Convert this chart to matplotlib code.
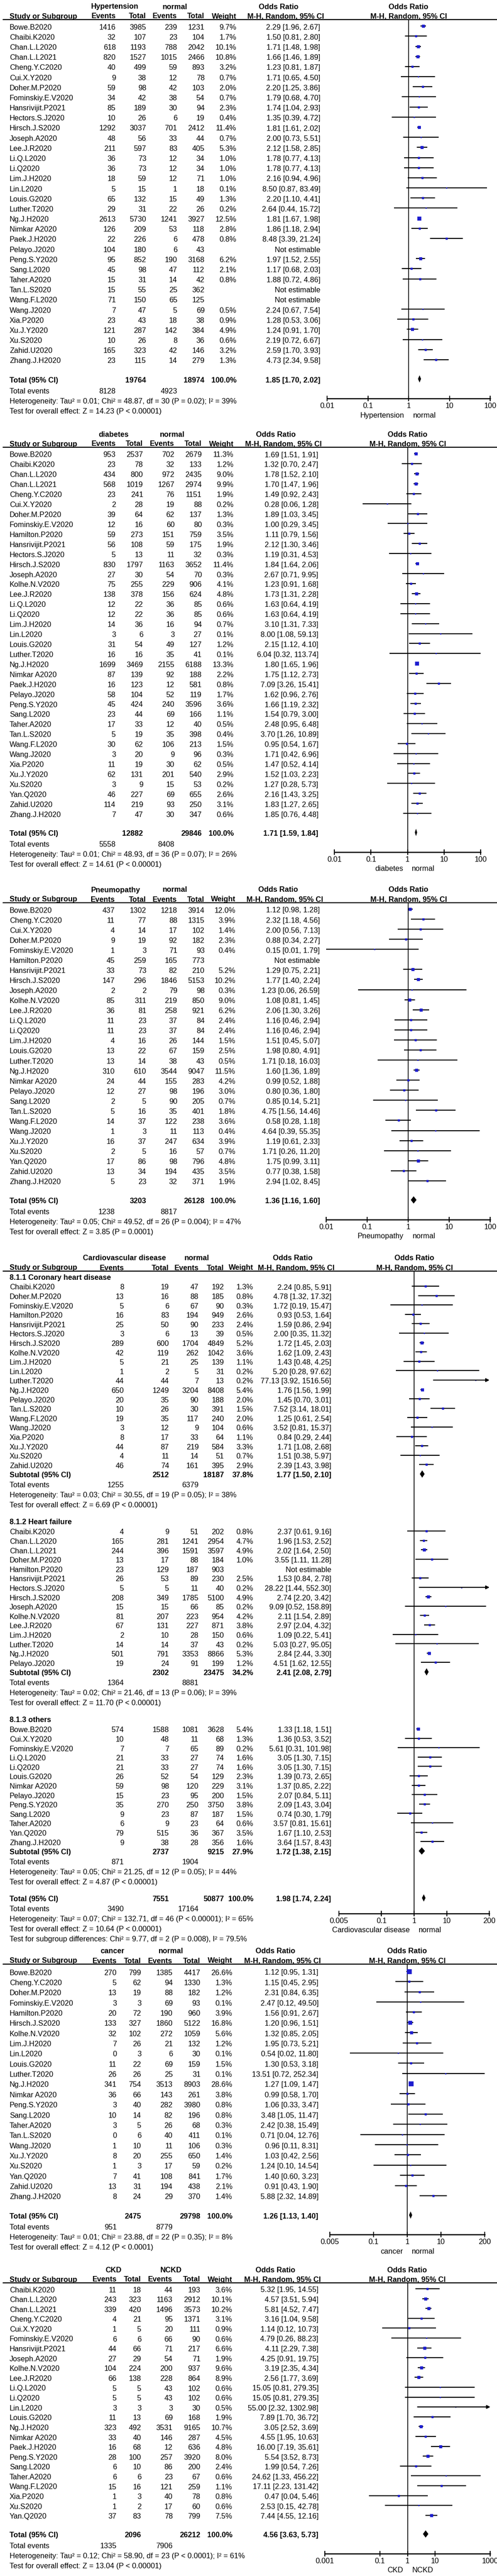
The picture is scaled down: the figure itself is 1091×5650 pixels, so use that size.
import matplotlib.pyplot as plt
from matplotlib.ticker import NullLocator
from matplotlib.transforms import blended_transform_factory

W, H = 1091, 5650
plt.rcParams['font.family'] = ['Liberation Sans', 'DejaVu Sans']
FS = 11.8
BLUE = '#1c1ccf'

# ---- data: (study, events1, total1, events2, total2, weight %, OR, lower, upper)
hyp_rows = [
    ("Bowe.B2020", 1416, 3985, 239, 1231, 9.7, 2.29, 1.96, 2.67),
    ("Chaibi.K2020", 32, 107, 23, 104, 1.7, 1.50, 0.81, 2.80),
    ("Chan.L.L2020", 618, 1193, 788, 2042, 10.1, 1.71, 1.48, 1.98),
    ("Chan.L.L2021", 820, 1527, 1015, 2466, 10.8, 1.66, 1.46, 1.89),
    ("Cheng.Y.C2020", 40, 499, 59, 893, 3.2, 1.23, 0.81, 1.87),
    ("Cui.X.Y2020", 9, 38, 12, 78, 0.7, 1.71, 0.65, 4.50),
    ("Doher.M.P2020", 59, 98, 42, 103, 2.0, 2.20, 1.25, 3.86),
    ("Fominskiy.E.V2020", 34, 42, 38, 54, 0.7, 1.79, 0.68, 4.70),
    ("Hansrivijit.P2021", 85, 189, 30, 94, 2.3, 1.74, 1.04, 2.93),
    ("Hectors.S.J2020", 10, 26, 6, 19, 0.4, 1.35, 0.39, 4.72),
    ("Hirsch.J.S2020", 1292, 3037, 701, 2412, 11.4, 1.81, 1.61, 2.02),
    ("Joseph.A2020", 48, 56, 33, 44, 0.7, 2.00, 0.73, 5.51),
    ("Lee.J.R2020", 211, 597, 83, 405, 5.3, 2.12, 1.58, 2.85),
    ("Li.Q.L2020", 36, 73, 12, 34, 1.0, 1.78, 0.77, 4.13),
    ("Li.Q2020", 36, 73, 12, 34, 1.0, 1.78, 0.77, 4.13),
    ("Lim.J.H2020", 18, 59, 12, 71, 1.0, 2.16, 0.94, 4.96),
    ("Lin.L2020", 5, 15, 1, 18, 0.1, 8.50, 0.87, 83.49),
    ("Louis.G2020", 65, 132, 15, 49, 1.3, 2.20, 1.10, 4.41),
    ("Luther.T2020", 29, 31, 22, 26, 0.2, 2.64, 0.44, 15.72),
    ("Ng.J.H2020", 2613, 5730, 1241, 3927, 12.5, 1.81, 1.67, 1.98),
    ("Nimkar A2020", 126, 209, 53, 118, 2.8, 1.86, 1.18, 2.94),
    ("Paek.J.H2020", 22, 226, 6, 478, 0.8, 8.48, 3.39, 21.24),
    ("Pelayo.J2020", 104, 180, 6, 43, None, None, None, None),
    ("Peng.S.Y2020", 95, 852, 190, 3168, 6.2, 1.97, 1.52, 2.55),
    ("Sang.L2020", 45, 98, 47, 112, 2.1, 1.17, 0.68, 2.03),
    ("Taher.A2020", 15, 31, 14, 42, 0.8, 1.88, 0.72, 4.86),
    ("Tan.L.S2020", 15, 55, 25, 362, None, None, None, None),
    ("Wang.F.L2020", 71, 150, 65, 125, None, None, None, None),
    ("Wang.J2020", 7, 47, 5, 69, 0.5, 2.24, 0.67, 7.54),
    ("Xia.P2020", 23, 43, 18, 38, 0.9, 1.28, 0.53, 3.06),
    ("Xu.J.Y2020", 121, 287, 142, 384, 4.9, 1.24, 0.91, 1.70),
    ("Xu.S2020", 10, 26, 8, 36, 0.6, 2.19, 0.72, 6.67),
    ("Zahid.U2020", 165, 323, 42, 146, 3.2, 2.59, 1.70, 3.93),
    ("Zhang.J.H2020", 23, 115, 14, 279, 1.3, 4.73, 2.34, 9.58),
]
hyp_total = (19764, 18974, 100.0, 1.85, 1.70, 2.02)
hyp_events = (8128, 4923)
hyp_het = "Heterogeneity: Tau² = 0.01; Chi² = 48.87, df = 30 (P = 0.02); I² = 39%"
hyp_test = "Test for overall effect: Z = 14.23 (P < 0.00001)"

dia_rows = [
    ("Bowe.B2020", 953, 2537, 702, 2679, 11.3, 1.69, 1.51, 1.91),
    ("Chaibi.K2020", 23, 78, 32, 133, 1.2, 1.32, 0.70, 2.47),
    ("Chan.L.L2020", 434, 800, 972, 2435, 9.0, 1.78, 1.52, 2.10),
    ("Chan.L.L2021", 568, 1019, 1267, 2974, 9.9, 1.70, 1.47, 1.96),
    ("Cheng.Y.C2020", 23, 241, 76, 1151, 1.9, 1.49, 0.92, 2.43),
    ("Cui.X.Y2020", 2, 28, 19, 88, 0.2, 0.28, 0.06, 1.28),
    ("Doher.M.P2020", 39, 64, 62, 137, 1.3, 1.89, 1.03, 3.45),
    ("Fominskiy.E.V2020", 12, 16, 60, 80, 0.3, 1.00, 0.29, 3.45),
    ("Hamilton.P2020", 59, 273, 151, 759, 3.5, 1.11, 0.79, 1.56),
    ("Hansrivijit.P2021", 56, 108, 59, 175, 1.9, 2.12, 1.30, 3.46),
    ("Hectors.S.J2020", 5, 13, 11, 32, 0.3, 1.19, 0.31, 4.53),
    ("Hirsch.J.S2020", 830, 1797, 1163, 3652, 11.4, 1.84, 1.64, 2.06),
    ("Joseph.A2020", 27, 30, 54, 70, 0.3, 2.67, 0.71, 9.95),
    ("Kolhe.N.V2020", 75, 255, 229, 906, 4.1, 1.23, 0.91, 1.68),
    ("Lee.J.R2020", 138, 378, 156, 624, 4.8, 1.73, 1.31, 2.28),
    ("Li.Q.L2020", 12, 22, 36, 85, 0.6, 1.63, 0.64, 4.19),
    ("Li.Q2020", 12, 22, 36, 85, 0.6, 1.63, 0.64, 4.19),
    ("Lim.J.H2020", 14, 36, 16, 94, 0.7, 3.10, 1.31, 7.33),
    ("Lin.L2020", 3, 6, 3, 27, 0.1, 8.00, 1.08, 59.13),
    ("Louis.G2020", 31, 54, 49, 127, 1.2, 2.15, 1.12, 4.10),
    ("Luther.T2020", 16, 16, 35, 41, 0.1, 6.04, 0.32, 113.74),
    ("Ng.J.H2020", 1699, 3469, 2155, 6188, 13.3, 1.80, 1.65, 1.96),
    ("Nimkar A2020", 87, 139, 92, 188, 2.2, 1.75, 1.12, 2.73),
    ("Paek.J.H2020", 16, 123, 12, 581, 0.8, 7.09, 3.26, 15.41),
    ("Pelayo.J2020", 58, 104, 52, 119, 1.7, 1.62, 0.96, 2.76),
    ("Peng.S.Y2020", 45, 424, 240, 3596, 3.6, 1.66, 1.19, 2.32),
    ("Sang.L2020", 23, 44, 69, 166, 1.1, 1.54, 0.79, 3.00),
    ("Taher.A2020", 17, 33, 12, 40, 0.5, 2.48, 0.95, 6.48),
    ("Tan.L.S2020", 5, 19, 35, 398, 0.4, 3.70, 1.26, 10.89),
    ("Wang.F.L2020", 30, 62, 106, 213, 1.5, 0.95, 0.54, 1.67),
    ("Wang.J2020", 3, 20, 9, 96, 0.3, 1.71, 0.42, 6.96),
    ("Xia.P2020", 11, 19, 30, 62, 0.5, 1.47, 0.52, 4.14),
    ("Xu.J.Y2020", 62, 131, 201, 540, 2.9, 1.52, 1.03, 2.23),
    ("Xu.S2020", 3, 9, 15, 53, 0.2, 1.27, 0.28, 5.73),
    ("Yan.Q2020", 46, 227, 69, 655, 2.6, 2.16, 1.43, 3.25),
    ("Zahid.U2020", 114, 219, 93, 250, 3.1, 1.83, 1.27, 2.65),
    ("Zhang.J.H2020", 7, 47, 30, 347, 0.6, 1.85, 0.76, 4.48),
]
dia_total = (12882, 29846, 100.0, 1.71, 1.59, 1.84)
dia_events = (5558, 8408)
dia_het = "Heterogeneity: Tau² = 0.01; Chi² = 48.93, df = 36 (P = 0.07); I² = 26%"
dia_test = "Test for overall effect: Z = 14.61 (P < 0.00001)"

pne_rows = [
    ("Bowe.B2020", 437, 1302, 1218, 3914, 12.0, 1.12, 0.98, 1.28),
    ("Cheng.Y.C2020", 11, 77, 88, 1315, 3.9, 2.32, 1.18, 4.56),
    ("Cui.X.Y2020", 4, 14, 17, 102, 1.4, 2.00, 0.56, 7.13),
    ("Doher.M.P2020", 9, 19, 92, 182, 2.3, 0.88, 0.34, 2.27),
    ("Fominskiy.E.V2020", 1, 3, 71, 93, 0.4, 0.15, 0.01, 1.79),
    ("Hamilton.P2020", 45, 259, 165, 773, None, None, None, None),
    ("Hansrivijit.P2021", 33, 73, 82, 210, 5.2, 1.29, 0.75, 2.21),
    ("Hirsch.J.S2020", 147, 296, 1846, 5153, 10.2, 1.77, 1.40, 2.24),
    ("Joseph.A2020", 2, 2, 79, 98, 0.3, 1.23, 0.06, 26.59),
    ("Kolhe.N.V2020", 85, 311, 219, 850, 9.0, 1.08, 0.81, 1.45),
    ("Lee.J.R2020", 36, 81, 258, 921, 6.2, 2.06, 1.30, 3.26),
    ("Li.Q.L2020", 11, 23, 37, 84, 2.4, 1.16, 0.46, 2.94),
    ("Li.Q2020", 11, 23, 37, 84, 2.4, 1.16, 0.46, 2.94),
    ("Lim.J.H2020", 4, 16, 26, 144, 1.5, 1.51, 0.45, 5.07),
    ("Louis.G2020", 13, 22, 67, 159, 2.5, 1.98, 0.80, 4.91),
    ("Luther.T2020", 13, 14, 38, 43, 0.5, 1.71, 0.18, 16.03),
    ("Ng.J.H2020", 310, 610, 3544, 9047, 11.5, 1.60, 1.36, 1.89),
    ("Nimkar A2020", 24, 44, 155, 283, 4.2, 0.99, 0.52, 1.88),
    ("Pelayo.J2020", 12, 27, 98, 196, 3.0, 0.80, 0.36, 1.80),
    ("Sang.L2020", 2, 5, 90, 205, 0.7, 0.85, 0.14, 5.21),
    ("Tan.L.S2020", 5, 16, 35, 401, 1.8, 4.75, 1.56, 14.46),
    ("Wang.F.L2020", 14, 37, 122, 238, 3.6, 0.58, 0.28, 1.18),
    ("Wang.J2020", 1, 3, 11, 113, 0.4, 4.64, 0.39, 55.35),
    ("Xu.J.Y2020", 16, 37, 247, 634, 3.9, 1.19, 0.61, 2.33),
    ("Xu.S2020", 2, 5, 16, 57, 0.7, 1.71, 0.26, 11.20),
    ("Yan.Q2020", 17, 86, 98, 796, 4.8, 1.75, 0.99, 3.11),
    ("Zahid.U2020", 13, 34, 194, 435, 3.5, 0.77, 0.38, 1.58),
    ("Zhang.J.H2020", 5, 23, 32, 371, 1.9, 2.94, 1.02, 8.45),
]
pne_total = (3203, 26128, 100.0, 1.36, 1.16, 1.60)
pne_events = (1238, 8817)
pne_het = "Heterogeneity: Tau² = 0.05; Chi² = 49.52, df = 26 (P = 0.004); I² = 47%"
pne_test = "Test for overall effect: Z = 3.85 (P = 0.0001)"

chd_rows = [
    ("Chaibi.K2020", 8, 19, 47, 192, 1.3, 2.24, 0.85, 5.91),
    ("Doher.M.P2020", 13, 16, 88, 185, 0.8, 4.78, 1.32, 17.32),
    ("Fominskiy.E.V2020", 5, 6, 67, 90, 0.3, 1.72, 0.19, 15.47),
    ("Hamilton.P2020", 16, 83, 194, 949, 2.6, 0.93, 0.53, 1.64),
    ("Hansrivijit.P2021", 25, 50, 90, 233, 2.4, 1.59, 0.86, 2.94),
    ("Hectors.S.J2020", 3, 6, 13, 39, 0.5, 2.00, 0.35, 11.32),
    ("Hirsch.J.S2020", 289, 600, 1704, 4849, 5.2, 1.72, 1.45, 2.03),
    ("Kolhe.N.V2020", 42, 119, 262, 1042, 3.6, 1.62, 1.09, 2.43),
    ("Lim.J.H2020", 5, 21, 25, 139, 1.1, 1.43, 0.48, 4.25),
    ("Lin.L2020", 1, 2, 5, 31, 0.2, 5.20, 0.28, 97.62),
    ("Luther.T2020", 44, 44, 7, 13, 0.2, 77.13, 3.92, 1516.56),
    ("Ng.J.H2020", 650, 1249, 3204, 8408, 5.4, 1.76, 1.56, 1.99),
    ("Pelayo.J2020", 20, 35, 90, 188, 2.0, 1.45, 0.70, 3.01),
    ("Tan.L.S2020", 10, 26, 30, 391, 1.5, 7.52, 3.14, 18.01),
    ("Wang.F.L2020", 19, 35, 117, 240, 2.0, 1.25, 0.61, 2.54),
    ("Wang.J2020", 3, 12, 9, 104, 0.6, 3.52, 0.81, 15.37),
    ("Xia.P2020", 8, 17, 33, 64, 1.1, 0.84, 0.29, 2.44),
    ("Xu.J.Y2020", 44, 87, 219, 584, 3.3, 1.71, 1.08, 2.68),
    ("Xu.S2020", 4, 11, 14, 51, 0.7, 1.51, 0.38, 5.97),
    ("Zahid.U2020", 46, 74, 161, 395, 2.9, 2.39, 1.43, 3.98),
]
chd_sub = (2512, 18187, 37.8, 1.77, 1.50, 2.10)
chd_events = (1255, 6379)
chd_het = "Heterogeneity: Tau² = 0.03; Chi² = 30.55, df = 19 (P = 0.05); I² = 38%"
chd_test = "Test for overall effect: Z = 6.69 (P < 0.00001)"

hf_rows = [
    ("Chaibi.K2020", 4, 9, 51, 202, 0.8, 2.37, 0.61, 9.16),
    ("Chan.L.L2020", 165, 281, 1241, 2954, 4.7, 1.96, 1.53, 2.52),
    ("Chan.L.L2021", 244, 396, 1591, 3597, 4.9, 2.02, 1.64, 2.50),
    ("Doher.M.P2020", 13, 17, 88, 184, 1.0, 3.55, 1.11, 11.28),
    ("Hamilton.P2020", 23, 129, 187, 903, None, None, None, None),
    ("Hansrivijit.P2021", 26, 53, 89, 230, 2.5, 1.53, 0.84, 2.78),
    ("Hectors.S.J2020", 5, 5, 11, 40, 0.2, 28.22, 1.44, 552.30),
    ("Hirsch.J.S2020", 208, 349, 1785, 5100, 4.9, 2.74, 2.20, 3.42),
    ("Joseph.A2020", 15, 15, 66, 85, 0.2, 9.09, 0.52, 158.89),
    ("Kolhe.N.V2020", 81, 207, 223, 954, 4.2, 2.11, 1.54, 2.89),
    ("Lee.J.R2020", 67, 131, 227, 871, 3.8, 2.97, 2.04, 4.32),
    ("Lim.J.H2020", 2, 10, 28, 150, 0.6, 1.09, 0.22, 5.41),
    ("Luther.T2020", 14, 14, 37, 43, 0.2, 5.03, 0.27, 95.05),
    ("Ng.J.H2020", 501, 791, 3353, 8866, 5.3, 2.84, 2.44, 3.30),
    ("Pelayo.J2020", 19, 24, 91, 199, 1.2, 4.51, 1.62, 12.55),
]
hf_sub = (2302, 23475, 34.2, 2.41, 2.08, 2.79)
hf_events = (1364, 8881)
hf_het = "Heterogeneity: Tau² = 0.02; Chi² = 21.46, df = 13 (P = 0.06); I² = 39%"
hf_test = "Test for overall effect: Z = 11.70 (P < 0.00001)"

oth_rows = [
    ("Bowe.B2020", 574, 1588, 1081, 3628, 5.4, 1.33, 1.18, 1.51),
    ("Cui.X.Y2020", 10, 48, 11, 68, 1.3, 1.36, 0.53, 3.52),
    ("Fominskiy.E.V2020", 7, 7, 65, 89, 0.2, 5.61, 0.31, 101.98),
    ("Li.Q.L2020", 21, 33, 27, 74, 1.6, 3.05, 1.30, 7.15),
    ("Li.Q2020", 21, 33, 27, 74, 1.6, 3.05, 1.30, 7.15),
    ("Louis.G2020", 26, 52, 54, 129, 2.3, 1.39, 0.73, 2.65),
    ("Nimkar A2020", 59, 98, 120, 229, 3.1, 1.37, 0.85, 2.22),
    ("Pelayo.J2020", 15, 23, 95, 200, 1.5, 2.07, 0.84, 5.11),
    ("Peng.S.Y2020", 35, 270, 250, 3750, 3.8, 2.09, 1.43, 3.04),
    ("Sang.L2020", 9, 23, 87, 187, 1.5, 0.74, 0.30, 1.79),
    ("Taher.A2020", 6, 9, 23, 64, 0.6, 3.57, 0.81, 15.61),
    ("Yan.Q2020", 79, 515, 36, 367, 3.5, 1.67, 1.10, 2.53),
    ("Zhang.J.H2020", 9, 38, 28, 356, 1.6, 3.64, 1.57, 8.43),
]
oth_sub = (2737, 9215, 27.9, 1.72, 1.38, 2.15)
oth_events = (871, 1904)
oth_het = "Heterogeneity: Tau² = 0.05; Chi² = 21.25, df = 12 (P = 0.05); I² = 44%"
oth_test = "Test for overall effect: Z = 4.87 (P < 0.00001)"

cvd_total = (7551, 50877, 100.0, 1.98, 1.74, 2.24)
cvd_events = (3490, 17164)
cvd_het = "Heterogeneity: Tau² = 0.07; Chi² = 132.71, df = 46 (P < 0.00001); I² = 65%"
cvd_test = "Test for overall effect: Z = 10.64 (P < 0.00001)"
cvd_subdiff = "Test for subgroup differences: Chi² = 9.77, df = 2 (P = 0.008), I² = 79.5%"

can_rows = [
    ("Bowe.B2020", 270, 799, 1385, 4417, 26.6, 1.12, 0.95, 1.31),
    ("Cheng.Y.C2020", 5, 62, 94, 1330, 1.3, 1.15, 0.45, 2.95),
    ("Doher.M.P2020", 13, 19, 88, 182, 1.2, 2.31, 0.84, 6.35),
    ("Fominskiy.E.V2020", 3, 3, 69, 93, 0.1, 2.47, 0.12, 49.50),
    ("Hamilton.P2020", 20, 72, 190, 960, 3.9, 1.56, 0.91, 2.67),
    ("Hirsch.J.S2020", 133, 327, 1860, 5122, 16.8, 1.20, 0.96, 1.51),
    ("Kolhe.N.V2020", 32, 102, 272, 1059, 5.6, 1.32, 0.85, 2.05),
    ("Lim.J.H2020", 7, 26, 21, 132, 1.2, 1.95, 0.73, 5.21),
    ("Lin.L2020", 0, 3, 6, 30, 0.1, 0.54, 0.02, 11.80),
    ("Louis.G2020", 11, 22, 69, 159, 1.5, 1.30, 0.53, 3.18),
    ("Luther.T2020", 26, 26, 25, 31, 0.1, 13.51, 0.72, 252.34),
    ("Ng.J.H2020", 341, 754, 3513, 8903, 28.6, 1.27, 1.09, 1.47),
    ("Nimkar A2020", 36, 66, 143, 261, 3.8, 0.99, 0.58, 1.70),
    ("Peng.S.Y2020", 3, 40, 282, 3980, 0.8, 1.06, 0.33, 3.47),
    ("Sang.L2020", 10, 14, 82, 196, 0.8, 3.48, 1.05, 11.47),
    ("Taher.A2020", 3, 5, 26, 68, 0.3, 2.42, 0.38, 15.49),
    ("Tan.L.S2020", 0, 6, 40, 411, 0.1, 0.71, 0.04, 12.76),
    ("Wang.J2020", 1, 10, 11, 106, 0.3, 0.96, 0.11, 8.31),
    ("Xu.J.Y2020", 8, 20, 255, 650, 1.4, 1.03, 0.42, 2.56),
    ("Xu.S2020", 1, 3, 17, 59, 0.2, 1.24, 0.10, 14.54),
    ("Yan.Q2020", 7, 41, 108, 841, 1.7, 1.40, 0.60, 3.23),
    ("Zahid.U2020", 13, 31, 194, 438, 2.1, 0.91, 0.43, 1.90),
    ("Zhang.J.H2020", 8, 24, 29, 370, 1.4, 5.88, 2.32, 14.89),
]
can_total = (2475, 29798, 100.0, 1.26, 1.13, 1.40)
can_events = (951, 8779)
can_het = "Heterogeneity: Tau² = 0.01; Chi² = 23.88, df = 22 (P = 0.35); I² = 8%"
can_test = "Test for overall effect: Z = 4.12 (P < 0.0001)"

ckd_rows = [
    ("Chaibi.K2020", 11, 18, 44, 193, 3.6, 5.32, 1.95, 14.55),
    ("Chan.L.L2020", 243, 323, 1163, 2912, 10.1, 4.57, 3.51, 5.94),
    ("Chan.L.L2021", 339, 420, 1496, 3573, 10.2, 5.81, 4.52, 7.47),
    ("Cheng.Y.C2020", 4, 21, 95, 1371, 3.1, 3.16, 1.04, 9.58),
    ("Cui.X.Y2020", 1, 5, 20, 111, 0.9, 1.14, 0.12, 10.73),
    ("Fominskiy.E.V2020", 6, 6, 66, 90, 0.6, 4.79, 0.26, 88.23),
    ("Hansrivijit.P2021", 44, 66, 71, 217, 6.6, 4.11, 2.29, 7.38),
    ("Joseph.A2020", 27, 29, 54, 71, 1.9, 4.25, 0.91, 19.75),
    ("Kolhe.N.V2020", 104, 224, 200, 937, 9.6, 3.19, 2.35, 4.34),
    ("Lee.J.R2020", 66, 138, 228, 864, 8.9, 2.56, 1.77, 3.69),
    ("Li.Q.L2020", 5, 5, 43, 102, 0.6, 15.05, 0.81, 279.35),
    ("Li.Q2020", 5, 5, 43, 102, 0.6, 15.05, 0.81, 279.35),
    ("Lin.L2020", 3, 3, 3, 30, 0.5, 55.00, 2.32, 1302.98),
    ("Louis.G2020", 11, 13, 69, 168, 1.9, 7.89, 1.70, 36.72),
    ("Ng.J.H2020", 323, 492, 3531, 9165, 10.7, 3.05, 2.52, 3.69),
    ("Nimkar A2020", 33, 40, 146, 287, 4.5, 4.55, 1.95, 10.63),
    ("Paek.J.H2020", 16, 68, 12, 636, 4.8, 16.00, 7.19, 35.61),
    ("Peng.S.Y2020", 28, 100, 257, 3920, 8.0, 5.54, 3.52, 8.73),
    ("Sang.L2020", 6, 10, 86, 200, 2.4, 1.99, 0.54, 7.26),
    ("Taher.A2020", 6, 6, 23, 67, 0.6, 24.62, 1.33, 456.22),
    ("Wang.F.L2020", 15, 16, 121, 259, 1.1, 17.11, 2.23, 131.42),
    ("Xia.P2020", 1, 3, 40, 78, 0.8, 0.47, 0.04, 5.46),
    ("Xu.S2020", 1, 2, 17, 60, 0.6, 2.53, 0.15, 42.78),
    ("Yan.Q2020", 37, 83, 78, 799, 7.5, 7.44, 4.55, 12.16),
]
ckd_total = (2096, 26212, 100.0, 4.56, 3.63, 5.73)
ckd_events = (1335, 7906)
ckd_het = "Heterogeneity: Tau² = 0.12; Chi² = 58.90, df = 23 (P < 0.0001); I² = 61%"
ckd_test = "Test for overall effect: Z = 13.04 (P < 0.00001)"

ticks_a = [0.01, 0.1, 1, 10, 100]
ticks_b = [0.005, 0.1, 1, 10, 200]
ticks_c = [0.001, 0.1, 1, 10, 1000]

# ---- drawing
fig = plt.figure(figsize=(W / 100, H / 100), dpi=100)
canvas = fig.add_axes([0, 0, 1, 1])
canvas.set_xlim(0, W)
canvas.set_ylim(H, 0)
canvas.axis('off')


def txt(x, y, s, ha='right', bold=False):
    canvas.text(x, y, s, ha=ha, va='center', fontsize=FS,
                fontweight='bold' if bold else 'normal')


def ci_text(o, lo, hi):
    return f"{o:.2f} [{lo:.2f}, {hi:.2f}]"


def make_forest(L, ticks):
    x0, x1 = L['fpx']
    ax = fig.add_axes([x0 / W, 1 - L['axis'] / H, (x1 - x0) / W, (L['axis'] - L['line']) / H])
    ax.set_xscale('log')
    ax.set_xlim(ticks[0], ticks[-1])
    ax.set_ylim(L['axis'], L['line'])
    ax.patch.set_visible(False)
    for s in ('left', 'right', 'top'):
        ax.spines[s].set_visible(False)
    ax.spines['bottom'].set_linewidth(1.8)
    ax.set_yticks([])
    ax.set_xticks(ticks)
    ax.set_xticklabels([f"{t:g}" for t in ticks])
    ax.xaxis.set_minor_locator(NullLocator())
    ax.tick_params(axis='x', direction='inout', length=9, width=1.5, labelsize=FS, pad=2)
    ax.axvline(1, color='black', lw=1.2)
    tr = blended_transform_factory(ax.transData, canvas.transData)
    ya = L['axis'] + 37
    ax.annotate(L['g1'], xy=(1, ya), xycoords=tr, xytext=(-7, 0), textcoords='offset points',
                ha='right', va='center', fontsize=FS)
    ax.annotate(L['g2'], xy=(1, ya), xycoords=tr, xytext=(7, 0), textcoords='offset points',
                ha='left', va='center', fontsize=FS)
    return ax


def header(L):
    c = L['cols']
    yl = L['line']
    yt, ys = yl - 28, yl - 7
    txt(L['g1x'], yt, L['g1'], ha='center', bold=True)
    txt(L['g2x'], yt, L['g2'], ha='center', bold=True)
    txt(L['orx'], yt, 'Odds Ratio', ha='center', bold=True)
    txt(L['fx'], yt, 'Odds Ratio', ha='center', bold=True)
    txt(21, ys, 'Study or Subgroup', ha='left', bold=True)
    for x, s in zip(c[:5], ['Events', 'Total', 'Events', 'Total', 'Weight']):
        txt(x, ys, s, bold=True)
    txt(L['mhx'], ys, 'M-H, Random, 95% CI', bold=True)
    txt(L['fx'], ys, 'M-H, Random, 95% CI', ha='center', bold=True)
    canvas.plot([7, W], [yl, yl], color='black', lw=1.6)


def study(L, ax, y, r):
    name, e1, n1, e2, n2, w, o, lo, hi = r
    c = L['cols']
    txt(21, y, name, ha='left')
    for x, v in zip(c[:4], (e1, n1, e2, n2)):
        txt(x, y, str(v))
    if w is None:
        txt(c[5], y, 'Not estimable')
        return
    txt(c[4], y, f"{w:.1f}%")
    txt(c[5], y, ci_text(o, lo, hi))
    ym = y - 3
    xmax = ax.get_xlim()[1]
    if hi > xmax * 1.3:
        ax.annotate('', xy=(xmax * 1.02, ym), xytext=(lo, ym), xycoords='data',
                    arrowprops=dict(arrowstyle='-|>', color='black', lw=1.6,
                                    mutation_scale=11, shrinkA=0, shrinkB=0),
                    annotation_clip=False)
    else:
        ax.plot([lo, hi], [ym, ym], color='black', lw=1.6, solid_capstyle='butt')
    ax.plot(o, ym, marker='s', ms=1.2 + 1.1 * w ** 0.5, color=BLUE, mec=BLUE, mew=0.5)


def pooled(L, ax, y, label, t):
    n1, n2, w, o, lo, hi = t
    c = L['cols']
    txt(21, y, label, ha='left', bold=True)
    txt(c[1], y, str(n1), bold=True)
    txt(c[3], y, str(n2), bold=True)
    txt(c[4], y, f"{w:.1f}%", bold=True)
    txt(c[5], y, ci_text(o, lo, hi), bold=True)
    ym = y - 3
    ax.fill([lo, o, hi, o], [ym, ym - 8, ym, ym + 8], color='black', lw=0)


def footer(L, y, ev, het, test):
    c = L['cols']
    txt(21, y, 'Total events', ha='left')
    txt(c[0], y, str(ev[0]))
    txt(c[2], y, str(ev[1]))
    txt(21, y + 22, het, ha='left')
    txt(21, y + 44, test, ha='left')


def simple_section(L, rows, total, events, het, test, ticks):
    ytot = L['row0'] + (len(rows) - 1 + 1.9) * L['step']
    L['axis'] = ytot + 40
    header(L)
    ax = make_forest(L, ticks)
    for i, r in enumerate(rows):
        study(L, ax, L['row0'] + i * L['step'], r)
    pooled(L, ax, ytot, 'Total (95% CI)', total)
    footer(L, ytot + 24, events, het, test)


hyp_L = dict(line=43, row0=60.3, step=22.17, cols=[254, 321, 389, 449, 519, 703],
             g1='Hypertension', g2='normal', g1x=252, g2x=384, orx=612, mhx=711,
             fx=897, fpx=(718, 1076))
simple_section(hyp_L, hyp_rows, hyp_total, hyp_events, hyp_het, hyp_test, ticks_a)

dia_L = dict(line=981, row0=998, step=21.92, cols=[254, 314, 383, 443, 513, 699],
             g1='diabetes', g2='normal', g1x=249, g2x=378, orx=606, mhx=706,
             fx=895, fpx=(734, 1055))
simple_section(dia_L, dia_rows, dia_total, dia_events, dia_het, dia_test, ticks_a)

pne_L = dict(line=1980, row0=1997, step=22.07, cols=[252, 321, 389, 449, 517, 702],
             g1='Pneumopathy', g2='normal', g1x=254, g2x=384, orx=611, mhx=709,
             fx=897, fpx=(716, 1076))
simple_section(pne_L, pne_rows, pne_total, pne_events, pne_het, pne_test, ticks_a)

# cardiovascular disease with subgroups
cvd_L = dict(line=2788, axis=4197, cols=[272, 371, 436, 492, 556, 727],
             g1='Cardiovascular disease', g2='normal', g1x=273, g2x=432, orx=643, mhx=734,
             fx=910, fpx=(744, 1074))
header(cvd_L)
cvd_ax = make_forest(cvd_L, ticks_b)
groups = [
    ("8.1.1 Coronary heart disease", chd_rows, chd_sub, chd_events, chd_het, chd_test),
    ("8.1.2 Heart failure", hf_rows, hf_sub, hf_events, hf_het, hf_test),
    ("8.1.3 others", oth_rows, oth_sub, oth_events, oth_het, oth_test),
]
y = 2802
last_sub = y
for title, rows, sub, ev, het, test in groups:
    txt(21, y, title, ha='left', bold=True)
    y += 22
    for r in rows:
        study(cvd_L, cvd_ax, y, r)
        y += 20.6
    pooled(cvd_L, cvd_ax, y, 'Subtotal (95% CI)', sub)
    footer(cvd_L, y + 22, ev, het, test)
    last_sub = y
    y += 103
ytot = last_sub + 103
pooled(cvd_L, cvd_ax, ytot, 'Total (95% CI)', cvd_total)
footer(cvd_L, ytot + 22, cvd_events, cvd_het, cvd_test)
txt(21, ytot + 88, cvd_subdiff, ha='left')

can_L = dict(line=4308, row0=4327, step=22.36, cols=[256, 310, 379, 440, 510, 699],
             g1='cancer', g2='normal', g1x=247, g2x=375, orx=605, mhx=704,
             fx=894, fpx=(724, 1064))
simple_section(can_L, can_rows, can_total, can_events, can_het, can_test, ticks_b)

ckd_L = dict(line=5007, row0=5023, step=21.6, cols=[256, 310, 379, 440, 510, 699],
             g1='CKD', g2='NCKD', g1x=249, g2x=376, orx=605, mhx=704,
             fx=894, fpx=(713, 1076))
simple_section(ckd_L, ckd_rows, ckd_total, ckd_events, ckd_het, ckd_test, ticks_c)

fig.savefig('out.png', dpi=100, facecolor='white')
